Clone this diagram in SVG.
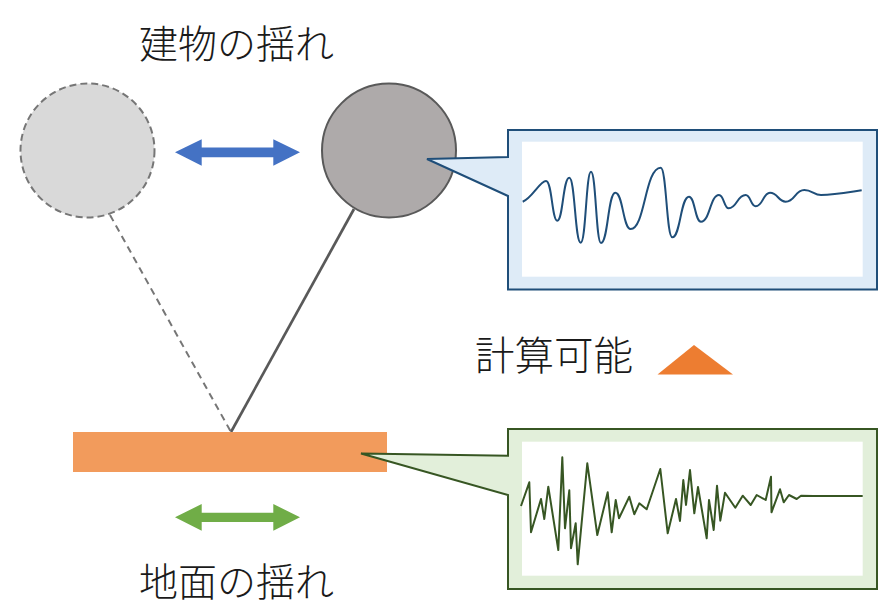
<svg xmlns="http://www.w3.org/2000/svg" width="895" height="616" viewBox="0 0 895 616">
<style>
.t{font-family:"Noto Sans CJK JP","Noto Sans CJK SC",sans-serif;font-size:39px;fill:#1a1a1a;font-weight:300}
.wave{fill:none;stroke-width:2;stroke-linejoin:round}
</style>
<rect width="895" height="616" fill="#ffffff"/>
<g id="connectors">
<line x1="110" y1="215" x2="231" y2="432" stroke="#767676" stroke-width="2" stroke-dasharray="7,5"/>
<line x1="231" y1="432" x2="354" y2="209" stroke="#595959" stroke-width="2.7"/>
</g>
<g id="ghost-mass">
<circle cx="87.5" cy="150.5" r="67" fill="#d9d9d9" stroke="#767676" stroke-width="2" stroke-dasharray="7,4"/>
</g>
<g id="mass">
<circle cx="389" cy="150.5" r="67" fill="#aeaaaa" stroke="#595959" stroke-width="2"/>
</g>
<g id="ground">
<rect x="73" y="432" width="314" height="40" fill="#f29b5c"/>
</g>
<g id="building-arrow">
<polygon points="175,152.3 201.7,139.3 201.7,147.5 273.3,147.5 273.3,139.3 300,152.3 273.3,165.7 273.3,157.2 201.7,157.2 201.7,165.7" fill="#4472c4"/>
</g>
<g id="ground-arrow">
<polygon points="175,517.3 201.7,504 201.7,512.7 273.3,512.7 273.3,504 300,517.3 273.3,530.7 273.3,522 201.7,522 201.7,530.7" fill="#70ad47"/>
</g>
<g id="label-building"><text class="t" x="139" y="58">建物の揺れ</text></g>
<g id="label-ground"><text class="t" x="139" y="595.5">地面の揺れ</text></g>
<g id="label-calc"><text class="t" x="475" y="370" style="font-size:39.5px">計算可能</text></g>
<g id="triangle"><polygon points="694,345 733,374.5 657.5,374.5" fill="#ed7d31"/></g>
<g id="callout-building">
<path d="M508,130 H877 V289.5 H508 V196 L427,159 L508,157 Z" fill="#deebf7" stroke="#1f4e79" stroke-width="2"/>
<rect x="522" y="141.7" width="340.7" height="135" fill="#ffffff"/>
<path class="wave" stroke="#1f4e79" d="M522.7,201.7 C532,198 540,181 546,181 C552,181 552,220.7 557.3,220.7 C563,220.7 563,177.7 569.3,177.7 C575,177.7 575,242.7 580.7,242.7 C586,242.7 586,171.7 591,171.7 C596,171.7 596,243 601,243 C608,243 608,192.7 615.3,192.7 C623,192.7 623,229 630.7,229 C645,229 645,167.7 660.7,167.7 C666.5,167.7 666.5,237.3 672.3,237.3 C680.5,237.3 680.5,196.7 689,196.7 C695,196.7 695,221.7 701,221.7 C710,221.7 710,195 719,195 C724,195 724,208.3 728.7,208.3 C737,208.3 737,195 745.7,195 C750.7,195 750.7,206.3 755.7,206.3 C763,206.3 763,192.7 770,192.7 C778,192.7 778,201.7 785.7,201.7 C795,201.7 795,190 804.3,190 C812,190 814,195 821,195 C835,195 850,192 861.7,190.3"/>
</g>
<g id="callout-ground">
<path d="M508,429 H877 V589 H508 V495 L361,453.5 L508,455.7 Z" fill="#e2efda" stroke="#375623" stroke-width="2"/>
<rect x="522" y="441.7" width="340.7" height="134" fill="#ffffff"/>
<polyline class="wave" stroke="#375623" points="521,506 529.3,482.3 531,532.3 541,499 544.3,519 548.3,486.7 558.3,550 562.3,457.3 565,528.3 569.3,490.3 571,548.3 575.7,523.3 577.7,564.3 587.3,463.3 597.3,535 607.7,492.3 611.7,532.3 615.7,500 619,518.3 629.3,496.7 634.3,514.3 639.3,503.3 646.7,509.3 660.3,469 667.7,533.3 676,499 680,521 683.3,480 686,505 690,470 694.3,513.3 698,487 706.7,538.3 709,500 713.7,530 717,485.7 720.3,520.7 725,492.7 735.3,507.7 742.7,495.7 750.7,505 756.7,495 765.7,500 771,476.7 771.5,512.3 780,489.3 783.7,502.3 789,495 796.7,499 801,495.7 813.3,496 862.7,496"/>
</g>
</svg>
